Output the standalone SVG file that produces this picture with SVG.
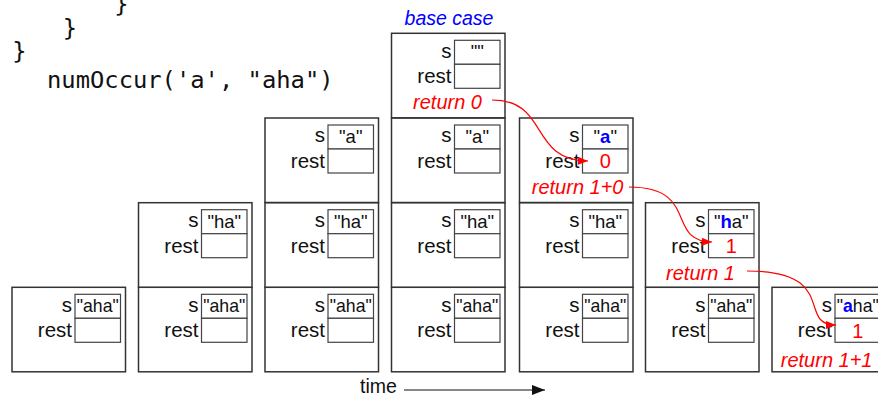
<svg xmlns="http://www.w3.org/2000/svg" width="878" height="400" viewBox="0 0 878 400">
<defs>
<style>
.fr{fill:#fff;stroke:#333;stroke-width:1.5}
.bx{fill:#fff;stroke:#444;stroke-width:1.2}
.lb{font-family:"Liberation Sans",Arial,sans-serif;font-size:20.5px;fill:#111;text-anchor:end}
.bt{font-family:"Liberation Sans",Arial,sans-serif;font-size:18.5px;fill:#111;text-anchor:middle}
.rv{font-family:"Liberation Sans",Arial,sans-serif;font-size:20px;fill:#f00;text-anchor:middle}
.rt{font-family:"Liberation Sans",Arial,sans-serif;font-size:20px;font-style:italic;fill:#f00;text-anchor:end}
.hl{fill:#00f;font-weight:bold}
.code{font-family:"DejaVu Sans Mono",monospace;font-size:23.8px;fill:#111}
.cn{fill:none;stroke:#f00;stroke-width:1.2}
</style>
<marker id="ar" markerWidth="10" markerHeight="8" refX="10" refY="4" orient="auto" markerUnits="userSpaceOnUse">
<path d="M0,0 L10,4 L0,8 Z" fill="#f00"/>
</marker>
<marker id="ak" markerWidth="13" markerHeight="10" refX="13" refY="5" orient="auto" markerUnits="userSpaceOnUse">
<path d="M0,0 L13,5 L0,10 Z" fill="#111"/>
</marker>
</defs>

<g id="code">
<text class="code" x="121.5" y="12" text-anchor="middle">}</text>
<text class="code" x="70" y="35.5" text-anchor="middle">}</text>
<text class="code" x="19.5" y="59" text-anchor="middle">}</text>
<text class="code" x="47" y="88">numOccur('a', "aha")</text>
</g>

<text id="base-case-label" x="449" y="25" font-family="'Liberation Sans',Arial,sans-serif" font-size="19.5" font-style="italic" fill="#00f" text-anchor="middle">base case</text>

<!-- column 1 -->
<g id="c1r0">
<rect class="fr" x="12" y="287.3" width="113.5" height="84.5"/>
<rect class="bx" x="75" y="294.3" width="45.5" height="24"/>
<rect class="bx" x="75" y="318.3" width="45.5" height="24"/>
<text class="lb" x="72" y="311.7">s</text>
<text class="lb" x="72" y="337.3">rest</text>
<text class="bt" x="97.75" y="312.3" textLength="42" lengthAdjust="spacingAndGlyphs">"aha"</text>
</g>

<!-- column 2 -->
<g id="c2r0">
<rect class="fr" x="138.5" y="287.3" width="113.5" height="84.5"/>
<rect class="bx" x="201.5" y="294.3" width="45.5" height="24"/>
<rect class="bx" x="201.5" y="318.3" width="45.5" height="24"/>
<text class="lb" x="198.5" y="311.7">s</text>
<text class="lb" x="198.5" y="337.3">rest</text>
<text class="bt" x="224.25" y="312.3" textLength="42" lengthAdjust="spacingAndGlyphs">"aha"</text>
</g>
<g id="c2r1">
<rect class="fr" x="138.5" y="202.7" width="113.5" height="84.5"/>
<rect class="bx" x="201.5" y="209.7" width="45.5" height="24"/>
<rect class="bx" x="201.5" y="233.7" width="45.5" height="24"/>
<text class="lb" x="198.5" y="227.1">s</text>
<text class="lb" x="198.5" y="252.7">rest</text>
<text class="bt" x="224.25" y="227.7">"ha"</text>
</g>

<!-- column 3 -->
<g id="c3r0">
<rect class="fr" x="265" y="287.3" width="113.5" height="84.5"/>
<rect class="bx" x="328" y="294.3" width="45.5" height="24"/>
<rect class="bx" x="328" y="318.3" width="45.5" height="24"/>
<text class="lb" x="325" y="311.7">s</text>
<text class="lb" x="325" y="337.3">rest</text>
<text class="bt" x="350.75" y="312.3" textLength="42" lengthAdjust="spacingAndGlyphs">"aha"</text>
</g>
<g id="c3r1">
<rect class="fr" x="265" y="202.7" width="113.5" height="84.5"/>
<rect class="bx" x="328" y="209.7" width="45.5" height="24"/>
<rect class="bx" x="328" y="233.7" width="45.5" height="24"/>
<text class="lb" x="325" y="227.1">s</text>
<text class="lb" x="325" y="252.7">rest</text>
<text class="bt" x="350.75" y="227.7">"ha"</text>
</g>
<g id="c3r2">
<rect class="fr" x="265" y="118" width="113.5" height="84.5"/>
<rect class="bx" x="328" y="125" width="45.5" height="24"/>
<rect class="bx" x="328" y="149" width="45.5" height="24"/>
<text class="lb" x="325" y="142.4">s</text>
<text class="lb" x="325" y="168">rest</text>
<text class="bt" x="350.75" y="143">"a"</text>
</g>

<!-- column 4 -->
<g id="c4r0">
<rect class="fr" x="391.5" y="287.3" width="113.5" height="84.5"/>
<rect class="bx" x="454.5" y="294.3" width="45.5" height="24"/>
<rect class="bx" x="454.5" y="318.3" width="45.5" height="24"/>
<text class="lb" x="451.5" y="311.7">s</text>
<text class="lb" x="451.5" y="337.3">rest</text>
<text class="bt" x="477.25" y="312.3" textLength="42" lengthAdjust="spacingAndGlyphs">"aha"</text>
</g>
<g id="c4r1">
<rect class="fr" x="391.5" y="202.7" width="113.5" height="84.5"/>
<rect class="bx" x="454.5" y="209.7" width="45.5" height="24"/>
<rect class="bx" x="454.5" y="233.7" width="45.5" height="24"/>
<text class="lb" x="451.5" y="227.1">s</text>
<text class="lb" x="451.5" y="252.7">rest</text>
<text class="bt" x="477.25" y="227.7">"ha"</text>
</g>
<g id="c4r2">
<rect class="fr" x="391.5" y="118" width="113.5" height="84.5"/>
<rect class="bx" x="454.5" y="125" width="45.5" height="24"/>
<rect class="bx" x="454.5" y="149" width="45.5" height="24"/>
<text class="lb" x="451.5" y="142.4">s</text>
<text class="lb" x="451.5" y="168">rest</text>
<text class="bt" x="477.25" y="143">"a"</text>
</g>
<g id="c4r3">
<rect class="fr" x="391.5" y="33.3" width="113.5" height="84.5"/>
<rect class="bx" x="454.5" y="40.3" width="45.5" height="24"/>
<rect class="bx" x="454.5" y="64.3" width="45.5" height="24"/>
<text class="lb" x="451.5" y="57.7">s</text>
<text class="lb" x="451.5" y="83.3">rest</text>
<text class="bt" x="477.25" y="58.3" font-size="15">""</text>
<text class="rt" x="482" y="109">return 0</text>
</g>

<!-- column 5 -->
<g id="c5r0">
<rect class="fr" x="519.5" y="287.3" width="113.5" height="84.5"/>
<rect class="bx" x="582.5" y="294.3" width="45.5" height="24"/>
<rect class="bx" x="582.5" y="318.3" width="45.5" height="24"/>
<text class="lb" x="579.5" y="311.7">s</text>
<text class="lb" x="579.5" y="337.3">rest</text>
<text class="bt" x="605.25" y="312.3" textLength="42" lengthAdjust="spacingAndGlyphs">"aha"</text>
</g>
<g id="c5r1">
<rect class="fr" x="519.5" y="202.7" width="113.5" height="84.5"/>
<rect class="bx" x="582.5" y="209.7" width="45.5" height="24"/>
<rect class="bx" x="582.5" y="233.7" width="45.5" height="24"/>
<text class="lb" x="579.5" y="227.1">s</text>
<text class="lb" x="579.5" y="252.7">rest</text>
<text class="bt" x="605.25" y="227.7">"ha"</text>
</g>
<g id="c5r2">
<rect class="fr" x="519.5" y="118" width="113.5" height="84.5"/>
<rect class="bx" x="582.5" y="125" width="45.5" height="24"/>
<rect class="bx" x="582.5" y="149" width="45.5" height="24"/>
<text class="lb" x="579.5" y="142.4">s</text>
<text class="lb" x="579.5" y="168">rest</text>
<text class="bt" x="605.25" y="143">"<tspan class="hl">a</tspan>"</text>
<text class="rv" x="605.25" y="168">0</text>
<text class="rt" x="623.5" y="194">return 1+0</text>
</g>

<!-- column 6 -->
<g id="c6r0">
<rect class="fr" x="645.5" y="287.3" width="113.5" height="84.5"/>
<rect class="bx" x="708.5" y="294.3" width="45.5" height="24"/>
<rect class="bx" x="708.5" y="318.3" width="45.5" height="24"/>
<text class="lb" x="705.5" y="311.7">s</text>
<text class="lb" x="705.5" y="337.3">rest</text>
<text class="bt" x="731.25" y="312.3" textLength="42" lengthAdjust="spacingAndGlyphs">"aha"</text>
</g>
<g id="c6r1">
<rect class="fr" x="645.5" y="202.7" width="113.5" height="84.5"/>
<rect class="bx" x="708.5" y="209.7" width="45.5" height="24"/>
<rect class="bx" x="708.5" y="233.7" width="45.5" height="24"/>
<text class="lb" x="705.5" y="227.1">s</text>
<text class="lb" x="705.5" y="252.7">rest</text>
<text class="bt" x="731.25" y="227.7">"<tspan class="hl">h</tspan>a"</text>
<text class="rv" x="731.25" y="252.5">1</text>
<text class="rt" x="735" y="279.5">return 1</text>
</g>

<!-- column 7 -->
<g id="c7r0">
<rect class="fr" x="772" y="287.3" width="113.5" height="84.5"/>
<rect class="bx" x="835" y="294.3" width="45.5" height="24"/>
<rect class="bx" x="835" y="318.3" width="45.5" height="24"/>
<text class="lb" x="832" y="311.7">s</text>
<text class="lb" x="832" y="337.3">rest</text>
<text class="bt" x="857.75" y="312.3" textLength="42" lengthAdjust="spacingAndGlyphs">"<tspan class="hl">a</tspan>ha"</text>
<text class="rv" x="857.75" y="338">1</text>
<text class="rt" x="872.5" y="366.5">return 1+1</text>
</g>

<g id="connectors">
<path class="cn" d="M492,100 C550,100 528,160 588,161" marker-end="url(#ar)"/>
<path class="cn" d="M629,187 C700,187 665,241 712,242" marker-end="url(#ar)"/>
<path class="cn" d="M747,271 C840,271 796,325 836,325" marker-end="url(#ar)"/>
<path d="M404,390 L545,390" stroke="#111" stroke-width="1.2" fill="none" marker-end="url(#ak)"/>
</g>

<text id="time" x="360" y="393" font-family="'Liberation Sans',Arial,sans-serif" font-size="19.5" fill="#111">time</text>
</svg>
